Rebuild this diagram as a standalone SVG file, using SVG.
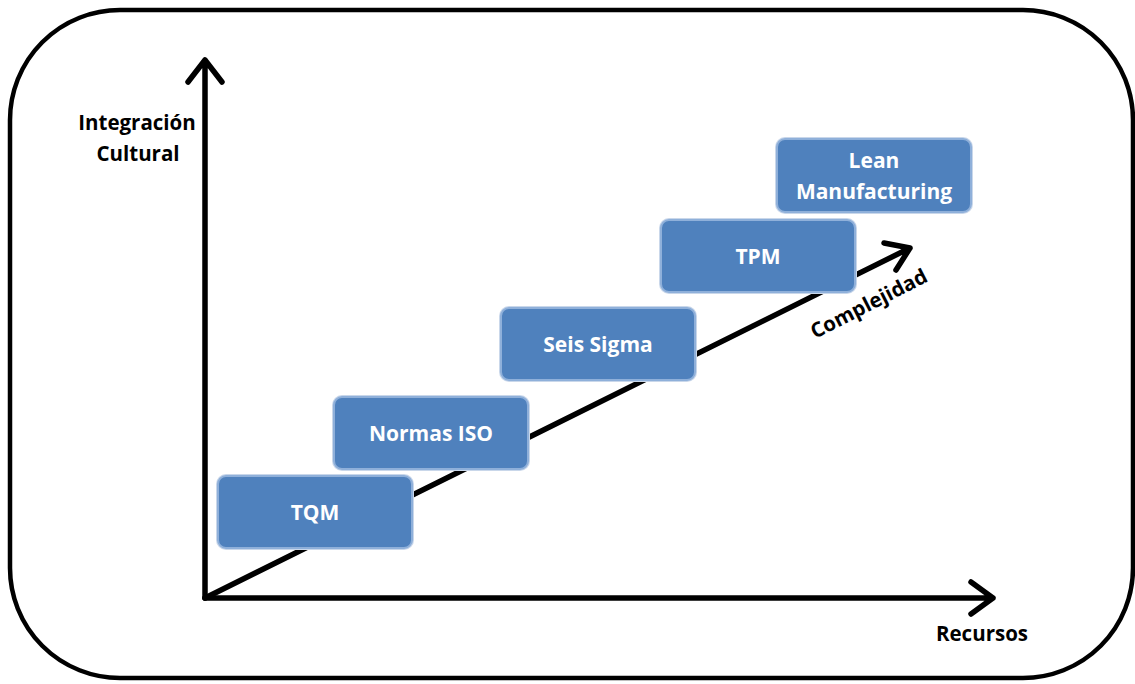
<svg xmlns="http://www.w3.org/2000/svg" width="1135" height="684" viewBox="0 0 1135 684">
<style>
.frame{fill:#fff;stroke:#000;stroke-width:4.5}
.axis{fill:none;stroke:#000;stroke-width:5.5;stroke-linecap:round;stroke-linejoin:round}
.box rect.o{fill:#c9d7ea}
.box rect.i{fill:#4f81bd;stroke:#8fb0da;stroke-width:2}
.bt{fill:#fff;font-family:"Open Sans","Noto Sans",sans-serif;font-weight:bold;font-size:21px;text-anchor:middle}
.lbl{fill:#000;font-family:"Open Sans","Noto Sans",sans-serif;font-weight:bold;font-size:20.5px;text-anchor:middle}
</style>
<rect class="frame" x="10" y="10" width="1123" height="668" rx="110" ry="110"/>
<g id="connectors">
<path class="axis" d="M205,598 V60 M188,82 L205,60 L222,82"/>
<path class="axis" d="M205,598 H993 M971,582 L993,598 L971,614"/>
<path class="axis" d="M205,598 L910,248 M884,243 L910,248 L896,270"/>
</g>
<g id="tqm" class="box"><rect class="o" x="216" y="474" width="198" height="76" rx="10"/><rect class="i" x="218" y="476" width="194" height="72" rx="8"/><text class="bt" x="315" y="520">TQM</text></g>
<g id="iso" class="box"><rect class="o" x="332" y="395" width="198" height="76" rx="10"/><rect class="i" x="334" y="397" width="194" height="72" rx="8"/><text class="bt" x="431" y="441">Normas ISO</text></g>
<g id="sigma" class="box"><rect class="o" x="499" y="306" width="198" height="76" rx="10"/><rect class="i" x="501" y="308" width="194" height="72" rx="8"/><text class="bt" x="598" y="352">Seis Sigma</text></g>
<g id="tpm" class="box"><rect class="o" x="659" y="218" width="198" height="76" rx="10"/><rect class="i" x="661" y="220" width="194" height="72" rx="8"/><text class="bt" x="758" y="264">TPM</text></g>
<g id="lean" class="box"><rect class="o" x="775" y="137" width="198" height="77" rx="10"/><rect class="i" x="777" y="139" width="194" height="73" rx="8"/><text class="bt" x="874" y="168">Lean</text><text class="bt" x="874" y="199">Manufacturing</text></g>
<g id="labels">
<text class="lbl" x="137" y="130">Integración</text>
<text class="lbl" x="138" y="161">Cultural</text>
<text class="lbl" x="982" y="641">Recursos</text>
<text class="lbl" transform="translate(872,310) rotate(-27)" x="0" y="0">Complejidad</text>
</g>
</svg>
